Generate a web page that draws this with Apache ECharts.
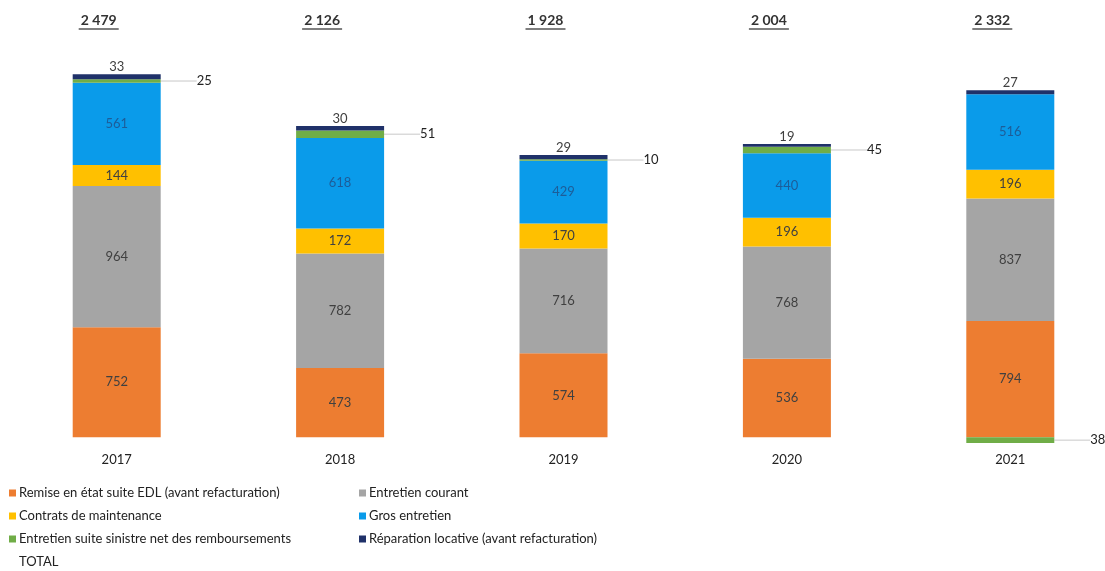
<!DOCTYPE html>
<html>
<head>
<meta charset="utf-8">
<script src="https://cdn.jsdelivr.net/npm/echarts@6/dist/echarts.min.js"></script>
<style>
  html, body { margin: 0; padding: 0; background: #fff; }
  #chart { width: 1105px; height: 571px; }
</style>
</head>
<body>
<div id="chart"></div>
<script>
// years and values (k€)
var years = ['2017', '2018', '2019', '2020', '2021'];
var remise = [752, 473, 574, 536, 794];
var courant = [964, 782, 716, 768, 837];
var contrats = [144, 172, 170, 196, 196];
var gros = [561, 618, 429, 440, 516];
var sinistre = [25, 51, 10, 45, -38];
var reparation = [33, 30, 29, 19, 27];
var totals = [2479, 2126, 1928, 2004, 2332];

var FONT = 'Lato, "Open Sans", sans-serif';

function fmtNum(v) {
    return String(v).replace(/\B(?=(\d{3})+(?!\d))/g, ' ');
}

var chart = echarts.init(document.getElementById('chart'));

function barSeries(name, data, color, labelColor) {
    return {
        name: name,
        type: 'bar',
        stack: 'total',
        barWidth: 88,
        data: data,
        itemStyle: { color: color },
        label: {
            show: true,
            position: 'inside',
            color: labelColor || '#404040',
            fontSize: 13,
            fontFamily: FONT
        }
    };
}

var legendText = { fontSize: 13, lineHeight: 14, color: '#222', fontFamily: FONT, padding: [0, 0, 0, -2] };

var option = {
    animation: false,
    backgroundColor: '#fff',
    textStyle: { fontFamily: FONT },
    grid: {
        left: 5,
        top: 42,
        width: 1117,
        height: 410,
        outerBoundsMode: 'none'
    },
    legend: [
        {
            orient: 'vertical',
            left: 9,
            top: 486,
            padding: 0,
            itemWidth: 7,
            itemHeight: 7,
            itemGap: 9,
            textStyle: legendText,
            data: [
                { name: 'Remise en état suite EDL (avant refacturation)', icon: 'rect' },
                { name: 'Contrats de maintenance', icon: 'rect' },
                { name: 'Entretien suite sinistre net des remboursements', icon: 'rect' },
                { name: 'TOTAL', icon: 'rect', itemStyle: { color: 'rgba(0,0,0,0)' } }
            ]
        },
        {
            orient: 'vertical',
            left: 359,
            top: 486,
            padding: 0,
            itemWidth: 7,
            itemHeight: 7,
            itemGap: 9,
            textStyle: legendText,
            data: [
                { name: 'Entretien courant', icon: 'rect' },
                { name: 'Gros entretien', icon: 'rect' },
                { name: 'Réparation locative (avant refacturation)', icon: 'rect' }
            ]
        }
    ],
    xAxis: {
        type: 'category',
        data: years,
        axisLine: { show: false, onZero: false },
        axisTick: { show: false },
        axisLabel: { color: '#222', fontSize: 13, margin: 1, fontFamily: FONT }
    },
    yAxis: {
        type: 'value',
        min: -100,
        max: 2700,
        show: false,
        splitLine: { show: false }
    },
    series: [
        barSeries('Remise en état suite EDL (avant refacturation)', remise, '#ED7D31'),
        barSeries('Entretien courant', courant, '#A5A5A5'),
        barSeries('Contrats de maintenance', contrats, '#FFC000'),
        barSeries('Gros entretien', gros, '#0A9BEA', '#1d5d99'),
        {
            name: 'Entretien suite sinistre net des remboursements',
            type: 'bar',
            stack: 'total',
            barWidth: 88,
            data: sinistre,
            itemStyle: { color: '#70AD47' },
            label: {
                show: true,
                position: 'right',
                distance: 4,
                color: '#222',
                fontSize: 13,
                fontFamily: FONT,
                formatter: function (p) { return Math.abs(p.value); }
            },
            labelLayout: { dx: 32 },
            labelLine: { show: true, lineStyle: { color: '#c8c8c8', width: 1 } }
        },
        {
            name: 'Réparation locative (avant refacturation)',
            type: 'bar',
            stack: 'total',
            barWidth: 88,
            data: reparation,
            itemStyle: { color: '#1F3169' },
            label: {
                show: true,
                position: 'top',
                distance: 1,
                color: '#404040',
                fontSize: 13,
                fontFamily: FONT
            }
        },
        {
            name: 'TOTAL',
            type: 'custom',
            clip: false,
            itemStyle: { color: 'rgba(0,0,0,0)' },
            data: totals.map(function (t, i) { return [i, t]; }),
            renderItem: function (params, api) {
                var x = api.coord([api.value(0), 0])[0] - 18;
                return {
                    type: 'group',
                    children: [
                        {
                            type: 'text',
                            x: x,
                            y: 20,
                            style: {
                                text: fmtNum(api.value(1)),
                                fill: '#333',
                                font: 'bold 14px ' + FONT,
                                align: 'center',
                                verticalAlign: 'middle',
                                textAlign: 'center',
                                textVerticalAlign: 'middle'
                            }
                        },
                        {
                            type: 'line',
                            shape: { x1: x - 20, y1: 29, x2: x + 20, y2: 29 },
                            style: { stroke: '#555', lineWidth: 1.5 }
                        }
                    ]
                };
            }
        }
    ]
};

chart.setOption(option);
</script>
</body>
</html>
